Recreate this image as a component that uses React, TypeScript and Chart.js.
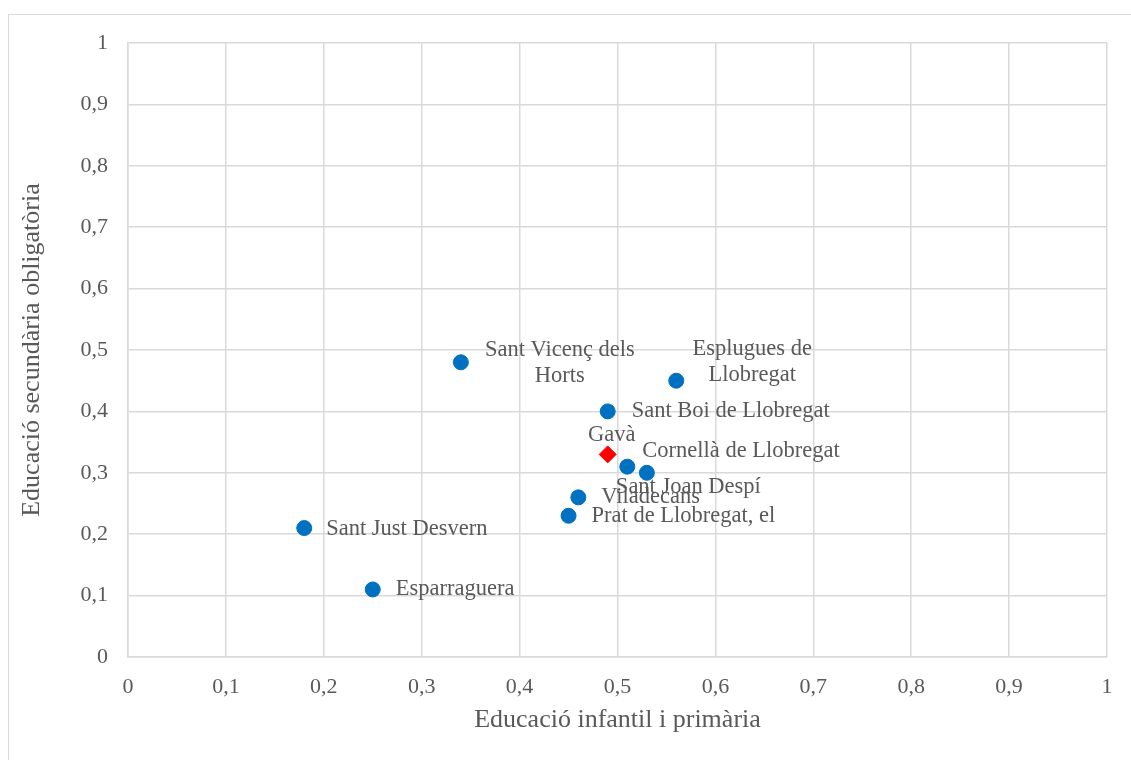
import React, { useEffect, useRef } from "react";
import { Chart, registerables } from "chart.js";

Chart.register(...registerables);

const municipalities = [
  "Sant Vicenç dels Horts",
  "Esplugues de Llobregat",
  "Sant Boi de Llobregat",
  "Cornellà de Llobregat",
  "Sant Joan Despí",
  "Viladecans",
  "Prat de Llobregat, el",
  "Sant Just Desvern",
  "Esparraguera",
];
const primaryValues = [0.34, 0.56, 0.49, 0.51, 0.53, 0.46, 0.45, 0.18, 0.25];
const secondaryValues = [0.48, 0.45, 0.40, 0.31, 0.30, 0.26, 0.23, 0.21, 0.11];

const highlightName = ["Gavà"];
const highlightPrimary = [0.49];
const highlightSecondary = [0.33];

const tickValues = [0, 0.1, 0.2, 0.3, 0.4, 0.5, 0.6, 0.7, 0.8, 0.9, 1];

// label layout (style, not data): lines, anchor offset from the point, alignment
const labelLayout: Record<string, { lines: string[]; dx: number; dy: number; align: CanvasTextAlign }> = {
  "Sant Vicenç dels Horts": { lines: ["Sant Vicenç dels", "Horts"], dx: 99, dy: -12, align: "center" },
  "Esplugues de Llobregat": { lines: ["Esplugues de", "Llobregat"], dx: 76, dy: -32, align: "center" },
  "Sant Boi de Llobregat": { lines: ["Sant Boi de Llobregat"], dx: 24, dy: 0, align: "left" },
  "Cornellà de Llobregat": { lines: ["Cornellà de Llobregat"], dx: 15, dy: -16, align: "left" },
  "Sant Joan Despí": { lines: ["Sant Joan Despí"], dx: -31, dy: 14, align: "left" },
  "Viladecans": { lines: ["Viladecans"], dx: 23, dy: 0, align: "left" },
  "Prat de Llobregat, el": { lines: ["Prat de Llobregat, el"], dx: 23, dy: 0, align: "left" },
  "Sant Just Desvern": { lines: ["Sant Just Desvern"], dx: 22, dy: 1, align: "left" },
  "Esparraguera": { lines: ["Esparraguera"], dx: 23, dy: 0, align: "left" },
  "Gavà": { lines: ["Gavà"], dx: 4, dy: -19, align: "center" },
};

const FONT = "'Liberation Serif', 'Times New Roman', serif";
const TEXT = "#595959";

const labelPlugin = {
  id: "pointLabels",
  afterDatasetsDraw(chart: any) {
    const ctx = chart.ctx;
    ctx.save();
    ctx.font = `22.5px ${FONT}`;
    ctx.fillStyle = TEXT;
    ctx.textBaseline = "middle";
    chart.data.datasets.forEach((ds: any, di: number) => {
      const meta = chart.getDatasetMeta(di);
      meta.data.forEach((pt: any, i: number) => {
        const name = ds.names[i];
        const l = labelLayout[name];
        if (!l) return;
        ctx.textAlign = l.align;
        l.lines.forEach((line, li) => {
          ctx.fillText(line, pt.x + l.dx, pt.y + l.dy + li * 26);
        });
      });
    });
    ctx.restore();
  },
};

const fmt = (v: any) => String(Math.round(Number(v) * 10) / 10).replace(".", ",");

export default function App() {
  const ref = useRef<HTMLCanvasElement>(null);
  useEffect(() => {
    if (!ref.current) return;
    const chart = new Chart(ref.current, {
      type: "scatter",
      data: {
        datasets: [
          {
            label: "Municipis",
            names: municipalities,
            data: primaryValues.map((x, i) => ({ x, y: secondaryValues[i] })),
            backgroundColor: "#0070C0",
            borderColor: "#0070C0",
            pointRadius: 7.5,
            pointStyle: "circle",
          } as any,
          {
            label: "Gavà",
            names: highlightName,
            data: highlightPrimary.map((x, i) => ({ x, y: highlightSecondary[i] })),
            backgroundColor: "#FF0000",
            borderColor: "#FF0000",
            pointRadius: 8.5,
            pointStyle: "rectRot",
          } as any,
        ],
      },
      plugins: [labelPlugin],
      options: {
        animation: false,
        responsive: false,
        maintainAspectRatio: false,
        layout: { padding: { top: 28, right: 24, left: 0, bottom: 0 } },
        plugins: { legend: { display: false }, tooltip: { enabled: false } },
        scales: {
          x: {
            type: "linear",
            min: 0,
            max: 1,
            afterBuildTicks: (s: any) => { s.ticks = tickValues.map((v) => ({ value: v })); },
            afterFit: (s: any) => { s.height = 103; s.paddingLeft = 0; s.paddingRight = 0; },
            grid: { color: "#d9d9d9", lineWidth: 1.5, drawTicks: false },
            border: { color: "#d9d9d9", width: 1.5 },
            ticks: {
              padding: 17,
              color: TEXT,
              font: { family: FONT, size: 22 },
              maxRotation: 0,
              callback: fmt,
            },
            title: {
              display: true,
              text: "Educació infantil i primària",
              color: TEXT,
              font: { family: FONT, size: 26 },
              padding: { top: 0, bottom: 24 },
            },
          },
          y: {
            type: "linear",
            min: 0,
            max: 1,
            afterBuildTicks: (s: any) => { s.ticks = tickValues.map((v) => ({ value: v })); },
            afterFit: (s: any) => { s.width = 119; s.paddingTop = 0; s.paddingBottom = 0; },
            grid: { color: "#d9d9d9", lineWidth: 1.5, drawTicks: false },
            border: { color: "#d9d9d9", width: 1.5 },
            ticks: {
              padding: 20,
              color: TEXT,
              font: { family: FONT, size: 22 },
              callback: fmt,
            },
            title: {
              display: true,
              text: "Educació secundària obligatòria",
              color: TEXT,
              font: { family: FONT, size: 26 },
              padding: { top: 8, bottom: 0 },
            },
          },
        },
      } as any,
    });
    return () => chart.destroy();
  }, []);
  return (
    <div
      style={{
        position: "absolute",
        left: 8,
        top: 14,
        width: 1123,
        height: 746,
        boxSizing: "border-box",
        borderTop: "1px solid #d9d9d9",
        borderLeft: "1px solid #d9d9d9",
        background: "#fff",
      }}
    >
      <canvas ref={ref} width={1122} height={745} style={{ display: "block" }} />
    </div>
  );
}
